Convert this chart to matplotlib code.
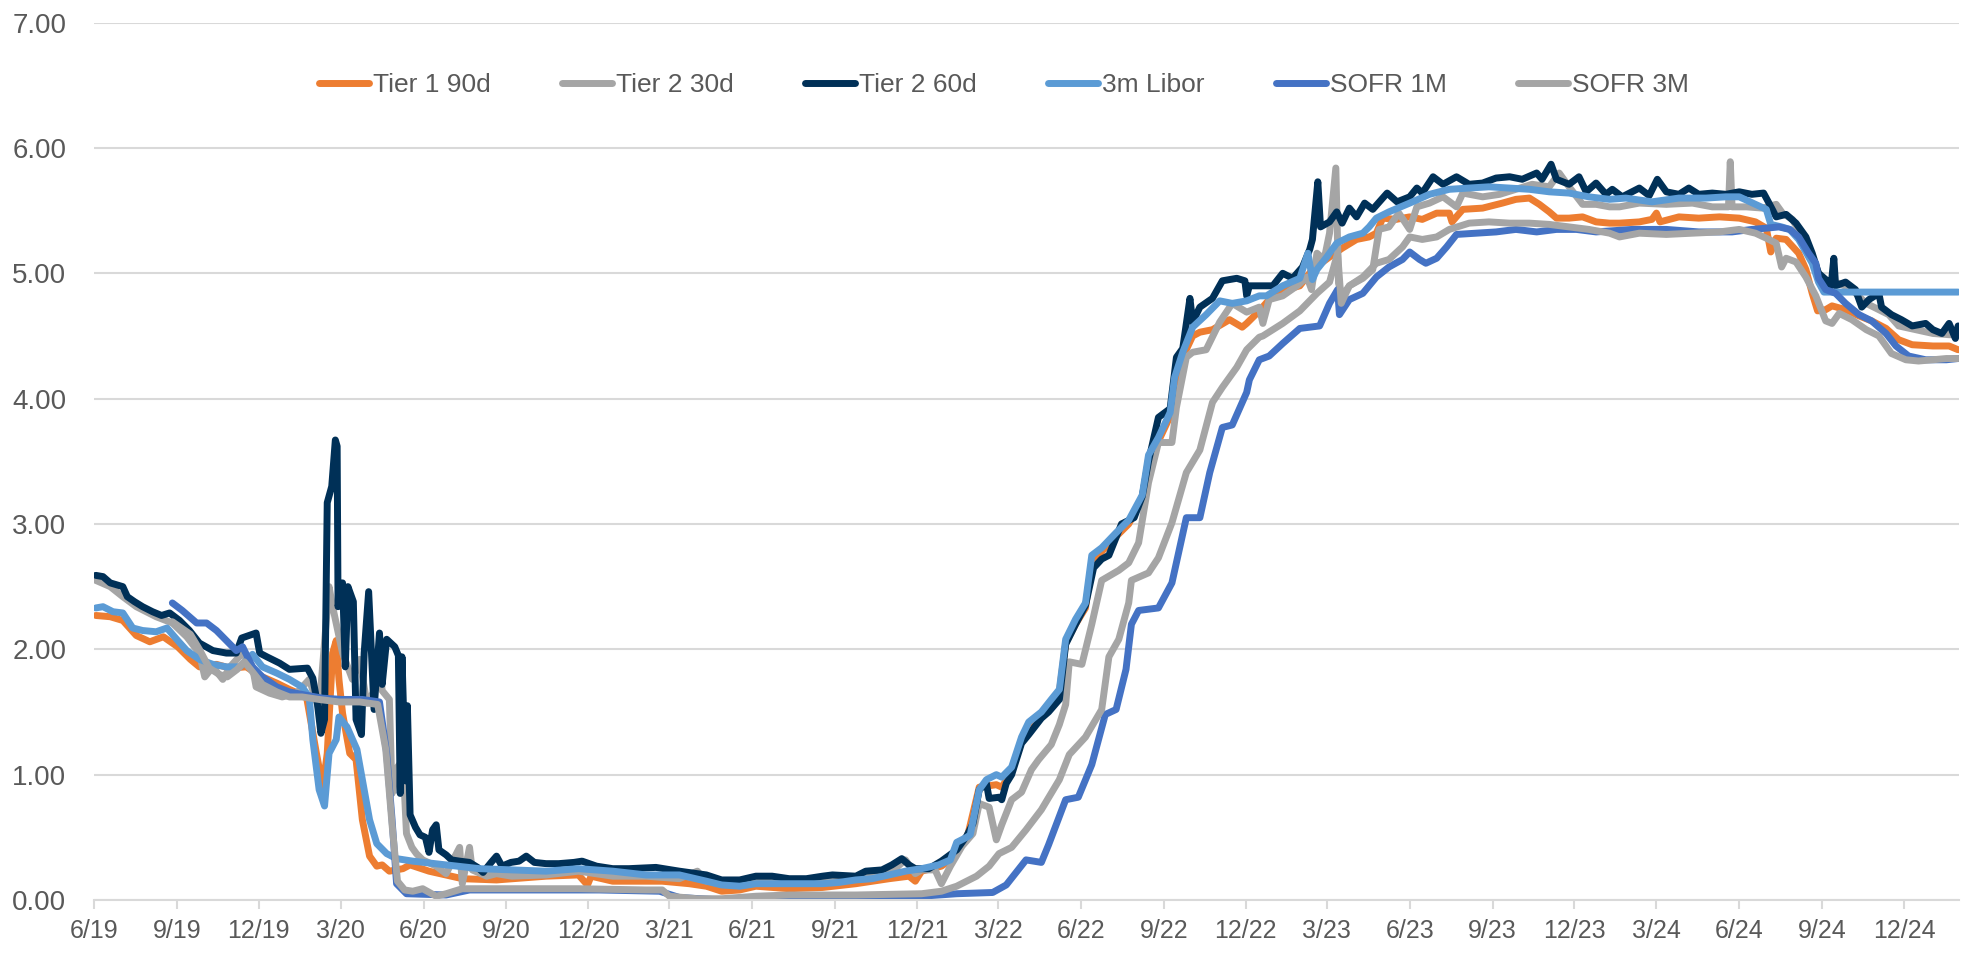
import matplotlib
matplotlib.use("Agg")
import matplotlib.pyplot as plt
import pandas as pd

plt.rcParams["font.family"] = ["Liberation Sans", "DejaVu Sans"]

# ---- data -------------------------------------------------------------
tier1_90_dates = [
    "2019-06-03", "2019-06-19", "2019-07-03", "2019-07-18", "2019-08-02", "2019-08-17", "2019-09-02",
    "2019-09-16", "2019-09-26", "2019-10-15", "2019-10-30", "2019-11-17", "2019-12-05", "2019-12-21",
    "2020-01-04", "2020-01-23", "2020-02-03", "2020-02-10", "2020-02-15", "2020-02-21", "2020-02-25",
    "2020-02-28", "2020-03-03", "2020-03-11", "2020-03-18", "2020-03-25", "2020-04-02", "2020-04-10",
    "2020-04-16", "2020-04-24", "2020-05-09", "2020-05-17", "2020-06-07", "2020-07-14", "2020-08-21",
    "2020-10-15", "2020-11-20", "2020-11-30", "2020-12-04", "2020-12-28", "2021-02-21", "2021-03-23",
    "2021-04-11", "2021-04-28", "2021-05-18", "2021-06-05", "2021-07-12", "2021-08-18", "2021-09-24",
    "2021-10-31", "2021-11-22", "2021-11-29", "2021-12-06", "2021-12-28", "2022-01-07", "2022-01-14",
    "2022-01-25", "2022-02-08", "2022-02-27", "2022-03-05", "2022-03-16", "2022-03-27", "2022-04-04",
    "2022-04-18", "2022-05-08", "2022-05-15", "2022-05-26", "2022-06-06", "2022-06-13", "2022-06-24",
    "2022-07-10", "2022-07-24", "2022-08-08", "2022-08-15", "2022-08-26", "2022-09-08", "2022-09-13",
    "2022-09-22", "2022-10-03", "2022-10-11", "2022-10-25", "2022-11-13", "2022-11-27", "2022-12-02",
    "2022-12-16", "2022-12-27", "2023-01-15", "2023-01-30", "2023-02-13", "2023-03-04", "2023-03-18",
    "2023-04-03", "2023-04-17", "2023-04-25", "2023-05-02", "2023-05-17", "2023-06-01", "2023-06-15",
    "2023-07-01", "2023-07-15", "2023-07-18", "2023-07-30", "2023-08-21", "2023-09-12", "2023-09-27",
    "2023-10-12", "2023-10-23", "2023-11-03", "2023-11-11", "2023-11-25", "2023-12-10", "2023-12-25",
    "2024-01-09", "2024-01-20", "2024-02-11", "2024-02-25", "2024-03-01", "2024-03-05", "2024-03-26",
    "2024-04-17", "2024-05-10", "2024-06-01", "2024-06-19", "2024-07-01", "2024-07-06", "2024-07-12",
    "2024-07-23", "2024-08-06", "2024-08-14", "2024-08-21", "2024-08-27", "2024-09-05", "2024-09-12",
    "2024-09-27", "2024-10-12", "2024-10-26", "2024-11-11", "2024-11-25", "2024-12-10", "2025-01-02",
    "2025-01-20", "2025-01-30",
]
tier1_90 = [
    2.27, 2.26, 2.23, 2.11, 2.06, 2.10, 2.02,
    1.92, 1.86, 1.88, 1.85, 1.86, 1.78, 1.73,
    1.68, 1.62, 1.17, 0.90, 1.17, 1.97, 2.07,
    1.76, 1.49, 1.17, 1.12, 0.64, 0.35, 0.27,
    0.28, 0.23, 0.25, 0.28, 0.23, 0.17, 0.16,
    0.19, 0.20, 0.12, 0.19, 0.15, 0.15, 0.13,
    0.11, 0.07, 0.08, 0.11, 0.09, 0.10, 0.13,
    0.17, 0.19, 0.15, 0.23, 0.27, 0.32, 0.40,
    0.48, 0.90, 0.92, 0.90, 1.02, 1.27, 1.38,
    1.48, 1.66, 2.05, 2.20, 2.33, 2.70, 2.78,
    2.90, 3.00, 3.20, 3.52, 3.66, 3.86, 4.12,
    4.33, 4.50, 4.53, 4.55, 4.63, 4.57, 4.60,
    4.70, 4.79, 4.87, 4.90, 5.03, 5.13, 5.20,
    5.27, 5.29, 5.32, 5.44, 5.43, 5.45, 5.43,
    5.48, 5.48, 5.41, 5.51, 5.52, 5.56, 5.59,
    5.60, 5.55, 5.49, 5.44, 5.44, 5.45, 5.41,
    5.40, 5.40, 5.41, 5.43, 5.48, 5.41, 5.45,
    5.44, 5.45, 5.44, 5.41, 5.36, 5.17, 5.28,
    5.27, 5.16, 5.03, 4.84, 4.70, 4.71, 4.74,
    4.71, 4.66, 4.62, 4.56, 4.47, 4.43, 4.42,
    4.42, 4.39,
]

tier2_30_dates = [
    "2019-06-03", "2019-06-19", "2019-07-03", "2019-07-18", "2019-08-09", "2019-08-27", "2019-09-12",
    "2019-09-26", "2019-10-02", "2019-10-11", "2019-10-22", "2019-10-30", "2019-11-13", "2019-11-24",
    "2019-11-28", "2019-12-13", "2019-12-27", "2020-01-12", "2020-01-26", "2020-02-06", "2020-02-17",
    "2020-02-21", "2020-03-03", "2020-03-14", "2020-03-22", "2020-03-30", "2020-04-10", "2020-04-13",
    "2020-04-16", "2020-04-24", "2020-04-27", "2020-05-03", "2020-05-09", "2020-05-13", "2020-05-19",
    "2020-05-24", "2020-05-31", "2020-06-15", "2020-06-26", "2020-07-11", "2020-07-14", "2020-07-22",
    "2020-07-25", "2020-08-10", "2020-08-21", "2020-09-07", "2020-10-15", "2020-11-20", "2020-12-28",
    "2021-02-03", "2021-03-12", "2021-04-01", "2021-04-11", "2021-04-28", "2021-06-05", "2021-07-12",
    "2021-08-18", "2021-09-24", "2021-10-31", "2021-11-18", "2021-11-29", "2021-12-06", "2021-12-21",
    "2021-12-28", "2022-01-07", "2022-01-20", "2022-02-01", "2022-02-08", "2022-02-19", "2022-02-27",
    "2022-03-05", "2022-03-16", "2022-03-27", "2022-04-07", "2022-04-15", "2022-04-29", "2022-05-08",
    "2022-05-15", "2022-05-19", "2022-06-02", "2022-06-13", "2022-06-24", "2022-07-13", "2022-07-24",
    "2022-08-04", "2022-08-15", "2022-08-26", "2022-09-10", "2022-09-15", "2022-09-26", "2022-10-03",
    "2022-10-18", "2022-11-02", "2022-11-16", "2022-12-02", "2022-12-16", "2022-12-20", "2022-12-27",
    "2023-01-11", "2023-01-27", "2023-02-07", "2023-02-12", "2023-02-18", "2023-02-26", "2023-03-04",
    "2023-03-11", "2023-03-14", "2023-03-18", "2023-03-26", "2023-04-10", "2023-04-21", "2023-04-28",
    "2023-05-09", "2023-05-20", "2023-06-01", "2023-06-09", "2023-06-23", "2023-07-08", "2023-07-23",
    "2023-07-30", "2023-08-21", "2023-09-09", "2023-09-27", "2023-10-15", "2023-11-03", "2023-11-14",
    "2023-11-25", "2023-12-10", "2023-12-25", "2024-01-09", "2024-01-20", "2024-02-11", "2024-03-12",
    "2024-04-10", "2024-05-02", "2024-05-20", "2024-05-22", "2024-05-24", "2024-06-09", "2024-06-27",
    "2024-07-12", "2024-07-19", "2024-07-30", "2024-08-10", "2024-08-21", "2024-08-28", "2024-09-09",
    "2024-09-20", "2024-10-04", "2024-10-20", "2024-11-03", "2024-11-14", "2024-11-25", "2024-12-14",
    "2025-01-02", "2025-01-20", "2025-01-30",
]
tier2_30 = [
    2.55, 2.50, 2.42, 2.34, 2.26, 2.21, 2.10,
    1.97, 1.78, 1.86, 1.76, 1.86, 1.97, 1.86,
    1.70, 1.65, 1.62, 1.65, 1.76, 1.52, 2.50,
    2.34, 1.97, 1.76, 1.92, 1.57, 1.70, 1.90,
    1.67, 1.60, 0.85, 1.06, 1.12, 0.53, 0.42,
    0.37, 0.32, 0.27, 0.21, 0.42, 0.13, 0.42,
    0.24, 0.19, 0.21, 0.19, 0.20, 0.23, 0.19,
    0.19, 0.17, 0.23, 0.15, 0.15, 0.16, 0.15,
    0.16, 0.17, 0.21, 0.32, 0.21, 0.24, 0.24,
    0.13, 0.27, 0.43, 0.53, 0.77, 0.74, 0.48,
    0.60, 0.80, 0.86, 1.04, 1.12, 1.24, 1.40,
    1.56, 1.90, 1.88, 2.20, 2.55, 2.63, 2.69,
    2.85, 3.33, 3.65, 3.65, 3.93, 4.33, 4.37,
    4.39, 4.61, 4.76, 4.69, 4.73, 4.60, 4.79,
    4.82, 4.90, 4.97, 4.87, 5.16, 5.11, 5.32,
    5.84, 4.92, 4.82, 4.90, 4.96, 5.03, 5.35,
    5.37, 5.48, 5.35, 5.53, 5.56, 5.61, 5.53,
    5.64, 5.61, 5.63, 5.67, 5.71, 5.69, 5.80,
    5.69, 5.55, 5.55, 5.53, 5.53, 5.56, 5.55,
    5.56, 5.53, 5.53, 5.89, 5.53, 5.53, 5.52,
    5.55, 5.48, 5.43, 5.29, 5.13, 5.00, 4.92,
    4.92, 4.87, 4.76, 4.71, 4.67, 4.58, 4.55,
    4.52, 4.51, 4.51,
]

tier2_60_dates = [
    "2019-06-03", "2019-06-11", "2019-06-19", "2019-07-03", "2019-07-08", "2019-07-16", "2019-07-25",
    "2019-08-05", "2019-08-15", "2019-08-24", "2019-09-04", "2019-09-15", "2019-09-26", "2019-10-11",
    "2019-10-26", "2019-11-06", "2019-11-12", "2019-11-28", "2019-12-02", "2019-12-10", "2019-12-24",
    "2020-01-04", "2020-01-24", "2020-01-30", "2020-02-04", "2020-02-08", "2020-02-12", "2020-02-15",
    "2020-02-20", "2020-02-24", "2020-02-26", "2020-02-27", "2020-03-03", "2020-03-06", "2020-03-09",
    "2020-03-15", "2020-03-18", "2020-03-24", "2020-03-27", "2020-04-01", "2020-04-07", "2020-04-13",
    "2020-04-16", "2020-04-21", "2020-04-30", "2020-05-04", "2020-05-06", "2020-05-08", "2020-05-12",
    "2020-05-14", "2020-05-17", "2020-05-23", "2020-05-28", "2020-06-03", "2020-06-07", "2020-06-11",
    "2020-06-15", "2020-06-18", "2020-06-26", "2020-07-02", "2020-07-11", "2020-07-22", "2020-07-31",
    "2020-08-06", "2020-08-15", "2020-08-21", "2020-08-27", "2020-09-06", "2020-09-15", "2020-09-23",
    "2020-10-02", "2020-10-15", "2020-10-29", "2020-11-15", "2020-11-24", "2020-12-10", "2020-12-28",
    "2021-01-15", "2021-02-14", "2021-03-12", "2021-04-11", "2021-04-28", "2021-05-18", "2021-06-05",
    "2021-06-23", "2021-07-12", "2021-07-31", "2021-08-18", "2021-08-29", "2021-09-24", "2021-10-05",
    "2021-10-23", "2021-11-03", "2021-11-14", "2021-11-22", "2021-11-29", "2021-12-14", "2021-12-28",
    "2022-01-14", "2022-01-25", "2022-02-01", "2022-02-08", "2022-02-16", "2022-02-19", "2022-03-02",
    "2022-03-05", "2022-03-10", "2022-03-16", "2022-03-27", "2022-04-04", "2022-04-18", "2022-04-26",
    "2022-05-08", "2022-05-15", "2022-05-26", "2022-06-06", "2022-06-15", "2022-06-24", "2022-07-02",
    "2022-07-16", "2022-07-30", "2022-08-08", "2022-08-15", "2022-08-26", "2022-09-08", "2022-09-15",
    "2022-09-22", "2022-09-30", "2022-10-03", "2022-10-11", "2022-10-25", "2022-11-05", "2022-11-21",
    "2022-11-30", "2022-12-02", "2022-12-05", "2022-12-20", "2022-12-31", "2023-01-11", "2023-01-22",
    "2023-02-02", "2023-02-10", "2023-02-13", "2023-02-19", "2023-02-22", "2023-03-04", "2023-03-12",
    "2023-03-18", "2023-03-26", "2023-04-03", "2023-04-12", "2023-04-21", "2023-05-07", "2023-05-18",
    "2023-06-01", "2023-06-09", "2023-06-15", "2023-06-27", "2023-07-08", "2023-07-23", "2023-08-06",
    "2023-08-21", "2023-09-05", "2023-09-20", "2023-10-04", "2023-10-20", "2023-10-26", "2023-11-05",
    "2023-11-11", "2023-11-25", "2023-12-06", "2023-12-14", "2023-12-25", "2024-01-05", "2024-01-12",
    "2024-01-23", "2024-02-11", "2024-02-22", "2024-03-02", "2024-03-12", "2024-03-26", "2024-04-06",
    "2024-04-17", "2024-05-02", "2024-05-17", "2024-06-01", "2024-06-15", "2024-06-28", "2024-07-04",
    "2024-07-12", "2024-07-23", "2024-08-03", "2024-08-14", "2024-08-21", "2024-08-28", "2024-09-05",
    "2024-09-11", "2024-09-14", "2024-09-16", "2024-09-27", "2024-10-08", "2024-10-15", "2024-10-23",
    "2024-11-03", "2024-11-06", "2024-11-17", "2024-11-28", "2024-12-10", "2024-12-25", "2025-01-02",
    "2025-01-12", "2025-01-20", "2025-01-27", "2025-01-30",
]
tier2_60 = [
    2.59, 2.58, 2.53, 2.50, 2.42, 2.38, 2.34,
    2.30, 2.27, 2.29, 2.23, 2.15, 2.05, 1.99,
    1.97, 1.97, 2.09, 2.13, 1.97, 1.94, 1.89,
    1.84, 1.85, 1.77, 1.57, 1.33, 1.44, 3.17,
    3.30, 3.67, 3.62, 2.34, 2.53, 1.86, 2.50,
    2.38, 1.44, 1.32, 1.97, 2.46, 1.52, 2.13,
    1.72, 2.08, 2.02, 1.95, 0.85, 1.94, 0.95,
    1.55, 0.68, 0.58, 0.52, 0.50, 0.38, 0.56,
    0.60, 0.40, 0.36, 0.32, 0.31, 0.30, 0.26,
    0.22, 0.30, 0.35, 0.27, 0.30, 0.31, 0.35,
    0.30, 0.29, 0.29, 0.30, 0.31, 0.27, 0.25,
    0.25, 0.26, 0.23, 0.20, 0.16, 0.16, 0.19,
    0.19, 0.17, 0.17, 0.19, 0.20, 0.19, 0.23,
    0.24, 0.28, 0.33, 0.28, 0.25, 0.25, 0.31,
    0.40, 0.51, 0.61, 0.88, 0.93, 0.81, 0.82,
    0.80, 0.93, 1.00, 1.25, 1.32, 1.45, 1.50,
    1.60, 2.04, 2.20, 2.35, 2.65, 2.72, 2.75,
    3.00, 3.05, 3.22, 3.50, 3.85, 3.92, 4.33,
    4.40, 4.80, 4.61, 4.73, 4.80, 4.94, 4.96,
    4.94, 4.82, 4.90, 4.90, 4.90, 5.00, 4.96,
    5.05, 5.19, 5.27, 5.73, 5.37, 5.41, 5.49,
    5.40, 5.52, 5.45, 5.56, 5.51, 5.64, 5.57,
    5.61, 5.68, 5.64, 5.77, 5.71, 5.77, 5.71,
    5.72, 5.76, 5.77, 5.75, 5.80, 5.75, 5.87,
    5.75, 5.71, 5.77, 5.65, 5.72, 5.63, 5.67,
    5.61, 5.68, 5.62, 5.75, 5.65, 5.63, 5.68,
    5.63, 5.64, 5.63, 5.65, 5.63, 5.64, 5.56,
    5.45, 5.47, 5.40, 5.29, 5.16, 5.00, 4.95,
    4.90, 5.12, 4.90, 4.93, 4.87, 4.73, 4.79,
    4.84, 4.73, 4.67, 4.63, 4.58, 4.60, 4.55,
    4.52, 4.60, 4.48, 4.58,
]

libor_3m_dates = [
    "2019-06-03", "2019-06-11", "2019-06-22", "2019-07-03", "2019-07-14", "2019-07-25", "2019-08-09",
    "2019-08-21", "2019-09-02", "2019-09-12", "2019-09-26", "2019-10-11", "2019-10-26", "2019-11-10",
    "2019-11-24", "2019-12-05", "2019-12-21", "2020-01-04", "2020-01-18", "2020-01-26", "2020-01-30",
    "2020-02-06", "2020-02-12", "2020-02-17", "2020-02-25", "2020-02-28", "2020-03-08", "2020-03-19",
    "2020-03-25", "2020-04-02", "2020-04-10", "2020-04-21", "2020-05-02", "2020-05-20", "2020-06-26",
    "2020-08-02", "2020-09-07", "2020-10-15", "2020-11-20", "2020-12-28", "2021-02-03", "2021-03-12",
    "2021-04-11", "2021-04-28", "2021-05-18", "2021-06-05", "2021-07-12", "2021-08-18", "2021-09-05",
    "2021-09-24", "2021-10-12", "2021-10-31", "2021-11-18", "2021-12-06", "2021-12-25", "2022-01-07",
    "2022-01-14", "2022-01-25", "2022-01-29", "2022-02-08", "2022-02-16", "2022-02-27", "2022-03-05",
    "2022-03-16", "2022-03-27", "2022-04-04", "2022-04-18", "2022-04-29", "2022-05-08", "2022-05-15",
    "2022-05-26", "2022-06-06", "2022-06-13", "2022-06-24", "2022-07-10", "2022-07-24", "2022-08-08",
    "2022-08-15", "2022-08-26", "2022-09-08", "2022-09-13", "2022-09-22", "2022-10-03", "2022-10-18",
    "2022-11-02", "2022-11-16", "2022-12-02", "2022-12-16", "2022-12-24", "2023-01-11", "2023-01-30",
    "2023-02-08", "2023-02-13", "2023-02-18", "2023-03-01", "2023-03-12", "2023-03-26", "2023-04-10",
    "2023-04-17", "2023-04-25", "2023-05-09", "2023-06-01", "2023-06-23", "2023-07-15", "2023-08-06",
    "2023-08-28", "2023-09-20", "2023-10-12", "2023-11-03", "2023-11-25", "2023-12-17", "2024-01-09",
    "2024-01-27", "2024-02-25", "2024-03-26", "2024-04-25", "2024-05-17", "2024-06-01", "2024-06-19",
    "2024-07-01", "2024-07-06", "2024-07-18", "2024-07-27", "2024-08-06", "2024-08-14", "2024-08-21",
    "2024-08-28", "2024-09-03", "2025-01-30",
]
libor_3m = [
    2.33, 2.34, 2.30, 2.29, 2.17, 2.15, 2.14,
    2.17, 2.07, 1.99, 1.92, 1.88, 1.86, 1.86,
    1.96, 1.86, 1.81, 1.76, 1.70, 1.62, 1.28,
    0.88, 0.75, 1.17, 1.28, 1.46, 1.38, 1.20,
    0.96, 0.64, 0.45, 0.37, 0.33, 0.31, 0.28,
    0.25, 0.24, 0.23, 0.25, 0.23, 0.20, 0.20,
    0.15, 0.12, 0.11, 0.13, 0.13, 0.13, 0.14,
    0.16, 0.17, 0.20, 0.23, 0.25, 0.28, 0.32,
    0.46, 0.50, 0.52, 0.88, 0.96, 1.00, 0.98,
    1.06, 1.30, 1.42, 1.50, 1.60, 1.68, 2.08,
    2.24, 2.37, 2.75, 2.81, 2.93, 3.03, 3.23,
    3.55, 3.69, 3.89, 4.17, 4.37, 4.57, 4.67,
    4.78, 4.76, 4.78, 4.82, 4.82, 4.90, 4.96,
    5.16, 4.95, 5.03, 5.13, 5.24, 5.29, 5.32,
    5.37, 5.44, 5.49, 5.56, 5.63, 5.67, 5.68,
    5.69, 5.68, 5.67, 5.65, 5.64, 5.61, 5.59,
    5.60, 5.57, 5.60, 5.60, 5.61, 5.61, 5.55,
    5.51, 5.39, 5.37, 5.35, 5.27, 5.17, 5.08,
    4.93, 4.85, 4.85,
]

sofr_1m_dates = [
    "2019-08-27", "2019-09-07", "2019-09-23", "2019-10-04", "2019-10-15", "2019-10-26", "2019-11-06",
    "2019-11-13", "2019-11-24", "2019-12-05", "2019-12-21", "2020-01-04", "2020-01-18", "2020-02-10",
    "2020-03-03", "2020-03-25", "2020-04-13", "2020-04-21", "2020-04-27", "2020-05-02", "2020-05-13",
    "2020-06-26", "2020-07-22", "2020-12-13", "2021-02-18", "2021-03-12", "2021-04-28", "2021-07-12",
    "2021-09-24", "2021-12-06", "2022-01-14", "2022-02-23", "2022-03-10", "2022-04-01", "2022-04-18",
    "2022-04-26", "2022-05-15", "2022-05-29", "2022-06-13", "2022-06-28", "2022-07-10", "2022-07-21",
    "2022-07-27", "2022-08-04", "2022-08-26", "2022-09-10", "2022-09-26", "2022-10-11", "2022-10-22",
    "2022-11-05", "2022-11-16", "2022-12-02", "2022-12-05", "2022-12-16", "2022-12-27", "2023-01-11",
    "2023-01-30", "2023-02-21", "2023-03-04", "2023-03-13", "2023-03-15", "2023-03-26", "2023-04-10",
    "2023-04-25", "2023-05-09", "2023-05-24", "2023-06-01", "2023-06-12", "2023-06-19", "2023-07-01",
    "2023-07-12", "2023-07-23", "2023-08-14", "2023-09-05", "2023-09-27", "2023-10-20", "2023-11-11",
    "2023-12-03", "2023-12-25", "2024-02-03", "2024-03-12", "2024-04-17", "2024-05-24", "2024-06-15",
    "2024-07-01", "2024-07-15", "2024-07-27", "2024-08-06", "2024-08-17", "2024-08-25", "2024-08-28",
    "2024-09-05", "2024-09-16", "2024-09-27", "2024-10-12", "2024-10-26", "2024-11-11", "2024-11-22",
    "2024-12-06", "2024-12-25", "2025-01-17", "2025-01-30",
]
sofr_1m = [
    2.37, 2.31, 2.21, 2.21, 2.15, 2.07, 1.99,
    2.02, 1.86, 1.78, 1.70, 1.66, 1.64, 1.61,
    1.60, 1.60, 1.58, 1.17, 0.64, 0.13, 0.05,
    0.04, 0.08, 0.08, 0.07, 0.02, 0.00, 0.01,
    0.03, 0.03, 0.05, 0.06, 0.12, 0.32, 0.30,
    0.44, 0.80, 0.82, 1.08, 1.48, 1.52, 1.84,
    2.20, 2.31, 2.33, 2.53, 3.05, 3.05, 3.41,
    3.77, 3.79, 4.05, 4.15, 4.31, 4.34, 4.44,
    4.56, 4.58, 4.76, 4.87, 4.67, 4.79, 4.84,
    4.97, 5.05, 5.11, 5.17, 5.11, 5.08, 5.12,
    5.21, 5.31, 5.32, 5.33, 5.35, 5.33, 5.35,
    5.35, 5.33, 5.35, 5.35, 5.33, 5.33, 5.35,
    5.36, 5.37, 5.35, 5.29, 5.16, 5.08, 4.96,
    4.87, 4.84, 4.76, 4.67, 4.62, 4.52, 4.42,
    4.34, 4.31, 4.31, 4.32,
]

sofr_3m_dates = [
    "2019-08-27", "2019-09-16", "2019-09-26", "2019-10-07", "2019-10-18", "2019-10-27", "2019-11-07",
    "2019-11-15", "2019-11-24", "2019-12-05", "2019-12-21", "2020-01-04", "2020-01-18", "2020-02-06",
    "2020-02-28", "2020-03-22", "2020-04-11", "2020-04-20", "2020-04-27", "2020-05-03", "2020-05-11",
    "2020-05-20", "2020-05-31", "2020-06-15", "2020-06-26", "2020-07-14", "2020-09-07", "2020-11-20",
    "2021-02-03", "2021-02-21", "2021-03-01", "2021-04-01", "2021-04-28", "2021-06-05", "2021-07-12",
    "2021-09-24", "2021-12-06", "2021-12-28", "2022-01-14", "2022-02-05", "2022-02-19", "2022-03-02",
    "2022-03-16", "2022-04-01", "2022-04-18", "2022-05-08", "2022-05-19", "2022-06-06", "2022-06-24",
    "2022-07-02", "2022-07-13", "2022-07-24", "2022-07-27", "2022-08-15", "2022-08-26", "2022-09-10",
    "2022-09-26", "2022-10-11", "2022-10-25", "2022-11-05", "2022-11-21", "2022-12-02", "2022-12-16",
    "2022-12-20", "2023-01-11", "2023-01-30", "2023-02-18", "2023-03-04", "2023-03-13", "2023-03-17",
    "2023-03-26", "2023-04-10", "2023-04-25", "2023-05-09", "2023-05-24", "2023-06-01", "2023-06-15",
    "2023-07-01", "2023-07-15", "2023-08-06", "2023-08-28", "2023-09-20", "2023-10-12", "2023-11-03",
    "2023-11-25", "2023-12-17", "2024-01-09", "2024-01-20", "2024-02-11", "2024-03-12", "2024-04-10",
    "2024-05-10", "2024-06-01", "2024-06-19", "2024-07-01", "2024-07-12", "2024-07-18", "2024-07-23",
    "2024-08-03", "2024-08-14", "2024-08-25", "2024-09-05", "2024-09-12", "2024-09-20", "2024-10-04",
    "2024-10-20", "2024-11-03", "2024-11-17", "2024-12-03", "2024-12-17", "2025-01-02", "2025-01-17",
    "2025-01-30",
]
sofr_3m = [
    2.22, 2.12, 2.00, 1.85, 1.80, 1.78, 1.84,
    1.90, 1.82, 1.72, 1.66, 1.62, 1.62, 1.60,
    1.58, 1.58, 1.56, 1.20, 0.60, 0.15, 0.08,
    0.07, 0.09, 0.03, 0.05, 0.09, 0.09, 0.09,
    0.08, 0.08, 0.03, 0.01, 0.01, 0.03, 0.04,
    0.04, 0.05, 0.07, 0.11, 0.19, 0.27, 0.37,
    0.42, 0.56, 0.72, 0.96, 1.16, 1.30, 1.52,
    1.94, 2.08, 2.37, 2.55, 2.61, 2.73, 3.01,
    3.41, 3.59, 3.97, 4.09, 4.25, 4.39, 4.49,
    4.50, 4.60, 4.70, 4.84, 4.93, 5.16, 4.76,
    4.90, 4.97, 5.08, 5.11, 5.21, 5.29, 5.27,
    5.29, 5.35, 5.40, 5.41, 5.40, 5.40, 5.39,
    5.37, 5.35, 5.32, 5.29, 5.32, 5.31, 5.32,
    5.33, 5.35, 5.32, 5.28, 5.24, 5.05, 5.12,
    5.09, 4.97, 4.82, 4.62, 4.60, 4.68, 4.63,
    4.55, 4.50, 4.36, 4.31, 4.30, 4.31, 4.32,
    4.32,
]

series = [
    ("Tier 1 90d", tier1_90_dates, tier1_90, "#ED7D31"),
    ("Tier 2 30d", tier2_30_dates, tier2_30, "#A5A5A5"),
    ("Tier 2 60d", tier2_60_dates, tier2_60, "#003057"),
    ("3m Libor", libor_3m_dates, libor_3m, "#5B9BD5"),
    ("SOFR 1M", sofr_1m_dates, sofr_1m, "#4472C4"),
    ("SOFR 3M", sofr_3m_dates, sofr_3m, "#A5A5A5"),
]

# ---- figure -----------------------------------------------------------
fig = plt.figure(figsize=(19.68, 9.56), dpi=100)
ax = fig.add_axes([94 / 1968, 1 - 900 / 956, (1959 - 94) / 1968, (900 - 22.6) / 956])

for name, d, v, c in series:
    ax.plot(pd.to_datetime(d), v, color=c, lw=5.0, label=name,
            solid_joinstyle="round", solid_capstyle="round")

ax.set_ylim(0, 7)
ax.set_yticks(range(0, 8))
ax.set_yticklabels(["%.2f" % t for t in range(0, 8)])
ax.set_xlim(pd.Timestamp("2019-06-01"), pd.Timestamp("2025-01-31"))

qticks = pd.date_range("2019-06-01", "2024-12-01", freq="3MS")
ax.set_xticks(qticks)
ax.set_xticklabels(["%d/%s" % (t.month, t.strftime("%y")) for t in qticks])

ax.grid(axis="y", color="#D9D9D9", lw=1.5)
ax.set_axisbelow(True)
for s in ("top", "right", "left"):
    ax.spines[s].set_visible(False)
ax.spines["bottom"].set_color("#D9D9D9")
ax.spines["bottom"].set_linewidth(1.5)

ax.tick_params(axis="y", length=0, pad=20, labelsize=20, labelcolor="#595959")
ax.tick_params(axis="x", direction="out", length=6.5, width=1.5, color="#D9D9D9",
               pad=7, labelsize=18, labelcolor="#595959")

leg = ax.legend(loc="center", bbox_to_anchor=(0.488, 0.929), ncol=6, frameon=False,
                handlelength=1.9, handletextpad=0.15, columnspacing=2.7,
                prop={"size": 19})
for t in leg.get_texts():
    t.set_color("#595959")

fig.savefig("out.png", dpi=100)
